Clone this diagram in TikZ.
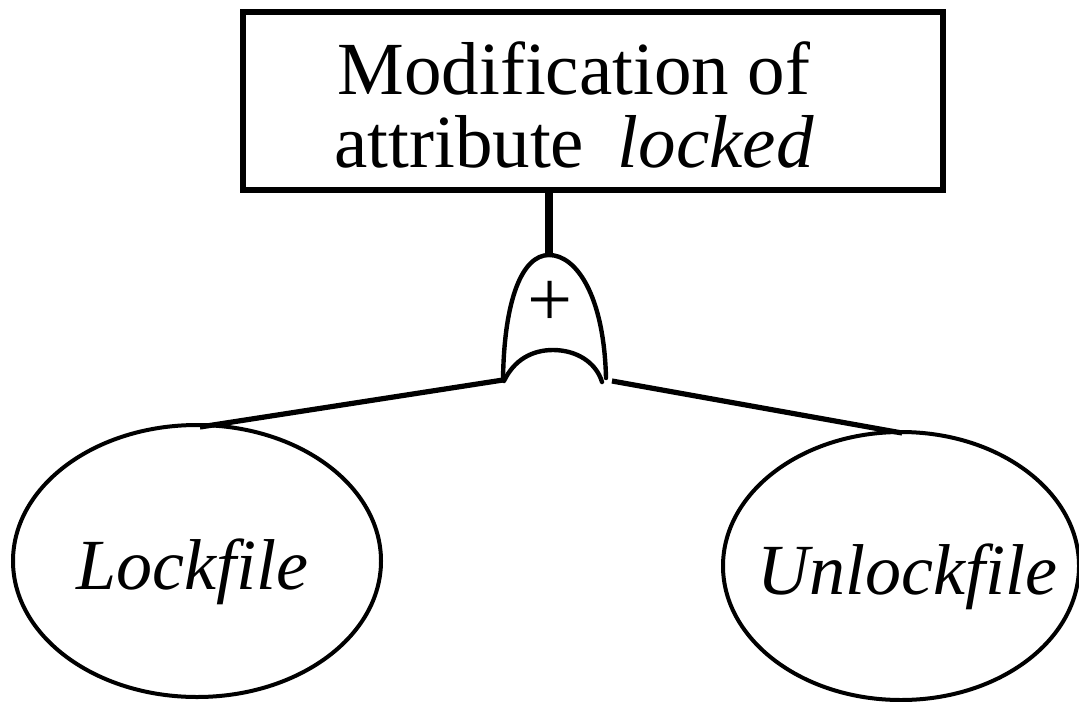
\documentclass[tikz,border=0pt]{standalone}
\usepackage{fontspec}
\setmainfont{Liberation Serif}
\usetikzlibrary{shapes.geometric}
\begin{document}
\begin{tikzpicture}[x=0.5pt,y=-0.5pt,
  boxnode/.style={draw,line width=2.6pt,minimum width=350pt,minimum height=89pt,inner sep=0pt},
  boxtext/.style={inner sep=0pt,align=center,font=\fontsize{37.5}{36.5}\selectfont},
  leaf/.style={draw,ellipse,line width=2pt,inner sep=0pt},
  leaftext/.style={font=\fontsize{36}{40}\selectfont\itshape},
  conn/.style={line width=2.6pt},
  gate/.style={line width=2.2pt,line cap=round}]
\useasboundingbox (0,0) rectangle (1079,701);
\node[boxnode] (top) at (593,101) {};
\node[boxtext] (toptxt) at (574,105) {Modification of\\attribute\hspace{0.45em}\textit{locked}};
\node[leaf,minimum width=184pt,minimum height=136pt] (lock) at (197,561) {};
\node[leaftext] (locktxt) at (192,572) {Lockfile};
\node[leaf,minimum width=178pt,minimum height=134pt] (unlock) at (901,566) {};
\node[leaftext] (unlocktxt) at (907,577) {Unlockfile};
\coordinate (gTop) at (549,255);
\coordinate (gL) at (503,380);
\coordinate (gR) at (606,378);
\coordinate (gR2) at (612,381);
\coordinate (gB) at (553,350);
\coordinate (lockT) at (200,427);
\coordinate (unlockT) at (902,433);
\draw[line width=4pt] (top.south -| gTop) -- (gTop);
\draw[gate] (gL) .. controls (504,300) and (522,255) .. (gTop)
  .. controls (576,255) and (604,295) .. (gR);
\draw[gate] (504,381) .. controls (514,360) and (532,350) .. (gB)
  .. controls (576,350) and (596,362) .. (602,382);
\node[font=\fontsize{40}{42}\selectfont] (plus) at (550,304) {+};
\draw[conn] (gL) -- (lockT);
\draw[conn] (gR2) -- (unlockT);
\end{tikzpicture}
\end{document}
